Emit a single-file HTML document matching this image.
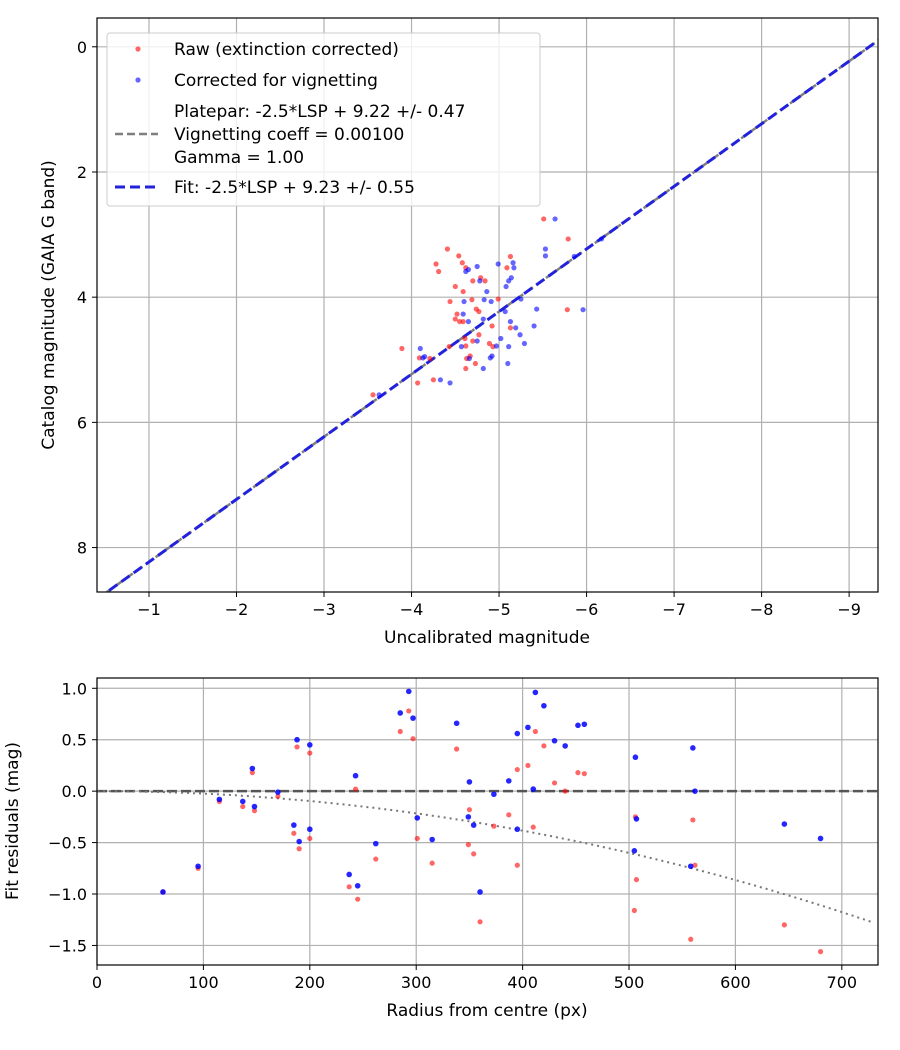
<!DOCTYPE html>
<html><head><meta charset="utf-8"><style>
body{margin:0;background:#fff}
svg{display:block;font-family:"DejaVu Sans","Liberation Sans",sans-serif}
</style></head><body>
<svg id="chart" width="900" height="1050" viewBox="0 0 900 1050"></svg>
<script>
// ---- Top panel data ----
const rawX=[-5.51,-5.79,-4.41,-4.54,-4.28,-4.31,-4.58,-4.62,-5.13,-5.09,-4.79,-4.84,-4.70,-4.50,-4.59,-4.44,-4.69,-4.99,-4.74,-4.77,-4.52,-4.50,-4.55,-4.59,-4.92,-5.13,-5.78,-4.61,-4.70,-4.62,-4.77,-4.89,-4.93,-4.43,-3.89,-4.09,-4.21,-4.67,-4.63,-4.73,-4.62,-4.07,-4.25,-3.56];
const rawY=[2.75,3.07,3.23,3.34,3.47,3.59,3.45,3.53,3.35,3.53,3.69,3.74,3.74,3.83,3.91,4.07,4.04,4.03,4.19,4.23,4.27,4.35,4.39,4.39,4.46,4.49,4.20,4.66,4.70,4.78,4.60,4.74,4.79,4.79,4.82,4.97,4.98,4.94,4.98,5.06,5.14,5.37,5.32,5.56];
const corX=[-5.64,-5.53,-5.53,-5.86,-6.17,-4.99,-5.16,-5.17,-4.75,-4.65,-4.62,-5.14,-5.11,-5.08,-4.78,-4.86,-4.83,-4.91,-4.60,-5.25,-5.43,-5.96,-5.07,-4.59,-4.65,-4.82,-5.13,-5.19,-5.40,-5.24,-5.29,-5.11,-4.97,-5.02,-4.75,-4.57,-4.10,-4.13,-4.15,-4.66,-4.90,-4.92,-4.82,-5.10,-4.33,-4.44,-3.63];
const corY=[2.75,3.23,3.34,3.35,3.07,3.47,3.45,3.53,3.51,3.56,3.59,3.69,3.74,3.83,3.74,3.91,4.04,4.07,4.07,4.03,4.19,4.20,4.23,4.27,4.39,4.35,4.39,4.49,4.46,4.60,4.74,4.79,4.78,4.66,4.70,4.79,4.82,4.97,4.95,4.98,4.97,4.94,5.14,5.06,5.32,5.37,5.56];
const fitOffset=9.23;
const topXTicks=[-1,-2,-3,-4,-5,-6,-7,-8,-9];
const topYTicks=[0,2,4,6,8];
// ---- Bottom panel data ----
const radius=[62,95,115,137,146,148,170,185,188,190,200,200,237,243,245,262,285,293,297,301,315,338,349,350,354,360,373,387,395,395,405,410,412,420,430,440,452,458,505,506,507,558,560,562,646,680];
const resRaw=[-0.98,-0.75,-0.10,-0.15,0.18,-0.19,-0.05,-0.41,0.43,-0.56,0.37,-0.46,-0.93,0.02,-1.05,-0.66,0.58,0.78,0.51,-0.46,-0.70,0.41,-0.52,-0.18,-0.61,-1.27,-0.34,-0.23,-0.72,0.21,0.25,-0.35,0.58,0.44,0.08,0.00,0.18,0.17,-1.16,-0.25,-0.86,-1.44,-0.28,-0.72,-1.30,-1.56];
const resCor=[-0.98,-0.73,-0.08,-0.10,0.22,-0.15,-0.01,-0.33,0.50,-0.49,0.45,-0.37,-0.81,0.15,-0.92,-0.51,0.76,0.97,0.71,-0.26,-0.47,0.66,-0.25,0.09,-0.33,-0.98,-0.03,0.10,-0.37,0.56,0.62,0.02,0.96,0.83,0.49,0.44,0.64,0.65,-0.58,0.33,-0.27,-0.73,0.42,0.00,-0.32,-0.46];
const botXTicks=[0,100,200,300,400,500,600,700];
const botYTicks=[1.0,0.5,0.0,-0.5,-1.0,-1.5];

const NS="http://www.w3.org/2000/svg";
const svg=document.getElementById('chart');
function mk(tag,attrs,parent){const e=document.createElementNS(NS,tag);for(const k in attrs)e.setAttribute(k,attrs[k]);(parent||svg).appendChild(e);return e;}

const T={l:97,r:878,t:18,b:592,x0:-0.406,x1:-9.33,y0:-0.46,y1:8.71};
const tx=v=>T.l+(v-T.x0)/(T.x1-T.x0)*(T.r-T.l);
const ty=v=>T.t+(v-T.y0)/(T.y1-T.y0)*(T.b-T.t);
const B={l:97,r:878,t:678,b:965,x0:0,x1:734,y0:1.1,y1:-1.69};
const bx=v=>B.l+(v-B.x0)/(B.x1-B.x0)*(B.r-B.l);
const by=v=>B.t+(v-B.y0)/(B.y1-B.y0)*(B.b-B.t);

// ---------- TOP ----------
const gTop=mk('g',{});


mk('defs',{}).innerHTML='<clipPath id="ct"><rect x="97" y="18" width="781" height="574"/></clipPath><clipPath id="cb"><rect x="97" y="678" width="781" height="287"/></clipPath>';
topXTicks.forEach(v=>{const x=tx(v);
 const l=mk('line',{x1:x,x2:x,y1:T.t,y2:T.b,stroke:'#b0b0b0','stroke-width':1.2},gTop);
 
 mk('line',{x1:x,x2:x,y1:T.b,y2:T.b+5,stroke:'#000'},gTop);
 const t=mk('text',{x:x,y:T.b+23,'text-anchor':'middle','font-size':16},gTop);t.textContent='\u2212'+Math.abs(v);
 });
topYTicks.forEach(v=>{const y=ty(v);
 const l=mk('line',{x1:T.l,x2:T.r,y1:y,y2:y,stroke:'#b0b0b0','stroke-width':1.2},gTop);
 
 mk('line',{x1:T.l-5,x2:T.l,y1:y,y2:y,stroke:'#000'},gTop);
 const t=mk('text',{x:T.l-10,y:y+6,'text-anchor':'end','font-size':16},gTop);t.textContent=v;
 });
const fitLine=mk('line',{x1:tx(T.x0),y1:ty(T.x0+fitOffset),x2:tx(T.x1),y2:ty(T.x1+fitOffset),stroke:'#7f7f7f','stroke-width':2.5,'stroke-dasharray':'8,4','clip-path':'url(#ct)'},gTop);

const fitLine2=mk('line',{x1:tx(T.x0),y1:ty(T.x0+fitOffset),x2:tx(T.x1),y2:ty(T.x1+fitOffset),stroke:'#2222dd','stroke-width':3,'stroke-dasharray':'10,5','clip-path':'url(#ct)'},gTop);

rawX.forEach((v,i)=>{const c=mk('circle',{cx:tx(v),cy:ty(rawY[i]),r:2.6,fill:'rgba(255,0,0,0.6)'},gTop);
 });
corX.forEach((v,i)=>{const c=mk('circle',{cx:tx(v),cy:ty(corY[i]),r:2.6,fill:'rgba(0,0,255,0.6)'},gTop);
 });
mk('rect',{x:T.l,y:T.t,width:T.r-T.l,height:T.b-T.t,fill:'none',stroke:'#000','stroke-width':1.2},gTop);
const lg=mk('g',{},gTop);

mk('rect',{x:107,y:33,width:433,height:173,rx:3,fill:'rgba(255,255,255,0.8)',stroke:'#cccccc'},lg);
mk('circle',{cx:138,cy:49,r:2.6,fill:'rgba(255,0,0,0.6)'},lg);
mk('circle',{cx:138,cy:80,r:2.6,fill:'rgba(0,0,255,0.6)'},lg);
mk('line',{x1:115,x2:158,y1:134,y2:134,stroke:'#7f7f7f','stroke-width':2.5,'stroke-dasharray':'8,4'},lg);
mk('line',{x1:115,x2:158,y1:187,y2:187,stroke:'#2222dd','stroke-width':3,'stroke-dasharray':'10,5'},lg);
[['Raw (extinction corrected)',55],['Corrected for vignetting',86],['Platepar: -2.5*LSP + 9.22 +/- 0.47',117],['Vignetting coeff = 0.00100',140],['Gamma = 1.00',163],['Fit: -2.5*LSP + 9.23 +/- 0.55',193]].forEach(a=>{
 const t=mk('text',{x:174,y:a[1],'font-size':17},lg);t.textContent=a[0];
 });
let t=mk('text',{x:487,y:643,'text-anchor':'middle','font-size':17},gTop);t.textContent='Uncalibrated magnitude';

t=mk('text',{x:0,y:0,'text-anchor':'middle','font-size':17,transform:'translate(54,305) rotate(-90)'},gTop);t.textContent='Catalog magnitude (GAIA G band)';


// ---------- BOTTOM ----------
const gB=mk('g',{});


botXTicks.forEach(v=>{const x=bx(v);
 const l=mk('line',{x1:x,x2:x,y1:B.t,y2:B.b,stroke:'#b0b0b0','stroke-width':1.2},gB);
 
 mk('line',{x1:x,x2:x,y1:B.b,y2:B.b+5,stroke:'#000'},gB);
 const t=mk('text',{x:x,y:B.b+23,'text-anchor':'middle','font-size':16},gB);t.textContent=v;
 });
botYTicks.forEach(v=>{const y=by(v);
 const l=mk('line',{x1:B.l,x2:B.r,y1:y,y2:y,stroke:'#b0b0b0','stroke-width':1.2},gB);
 
 mk('line',{x1:B.l-5,x2:B.l,y1:y,y2:y,stroke:'#000'},gB);
 const t=mk('text',{x:B.l-10,y:y+6,'text-anchor':'end','font-size':16},gB);t.textContent=(v<0?'\u2212':'')+Math.abs(v).toFixed(1);
 });
const zl=mk('line',{x1:B.l,x2:B.r,y1:by(0),y2:by(0),stroke:'#555','stroke-width':2.5,'stroke-dasharray':'10,4'},gB);

let d='';for(let r=0;r<=730;r+=5){d+=(r?'L':'M')+bx(r).toFixed(1)+','+by(-2.4e-6*r*r).toFixed(1);}
const vc=mk('path',{d:d,fill:'none',stroke:'#777','stroke-width':2,'stroke-dasharray':'2,4','clip-path':'url(#cb)'},gB);

radius.forEach((v,i)=>{const c=mk('circle',{cx:bx(v),cy:by(resRaw[i]),r:2.6,fill:'rgba(255,0,0,0.6)'},gB);
 });
radius.forEach((v,i)=>{const c=mk('circle',{cx:bx(v),cy:by(resCor[i]),r:2.8,fill:'rgba(0,0,255,0.85)'},gB);
 });
mk('rect',{x:B.l,y:B.t,width:B.r-B.l,height:B.b-B.t,fill:'none',stroke:'#000','stroke-width':1.2},gB);
t=mk('text',{x:487,y:1016,'text-anchor':'middle','font-size':17},gB);t.textContent='Radius from centre (px)';

t=mk('text',{x:0,y:0,'text-anchor':'middle','font-size':17,transform:'translate(18,821) rotate(-90)'},gB);t.textContent='Fit residuals (mag)';

</script>
</body></html>
